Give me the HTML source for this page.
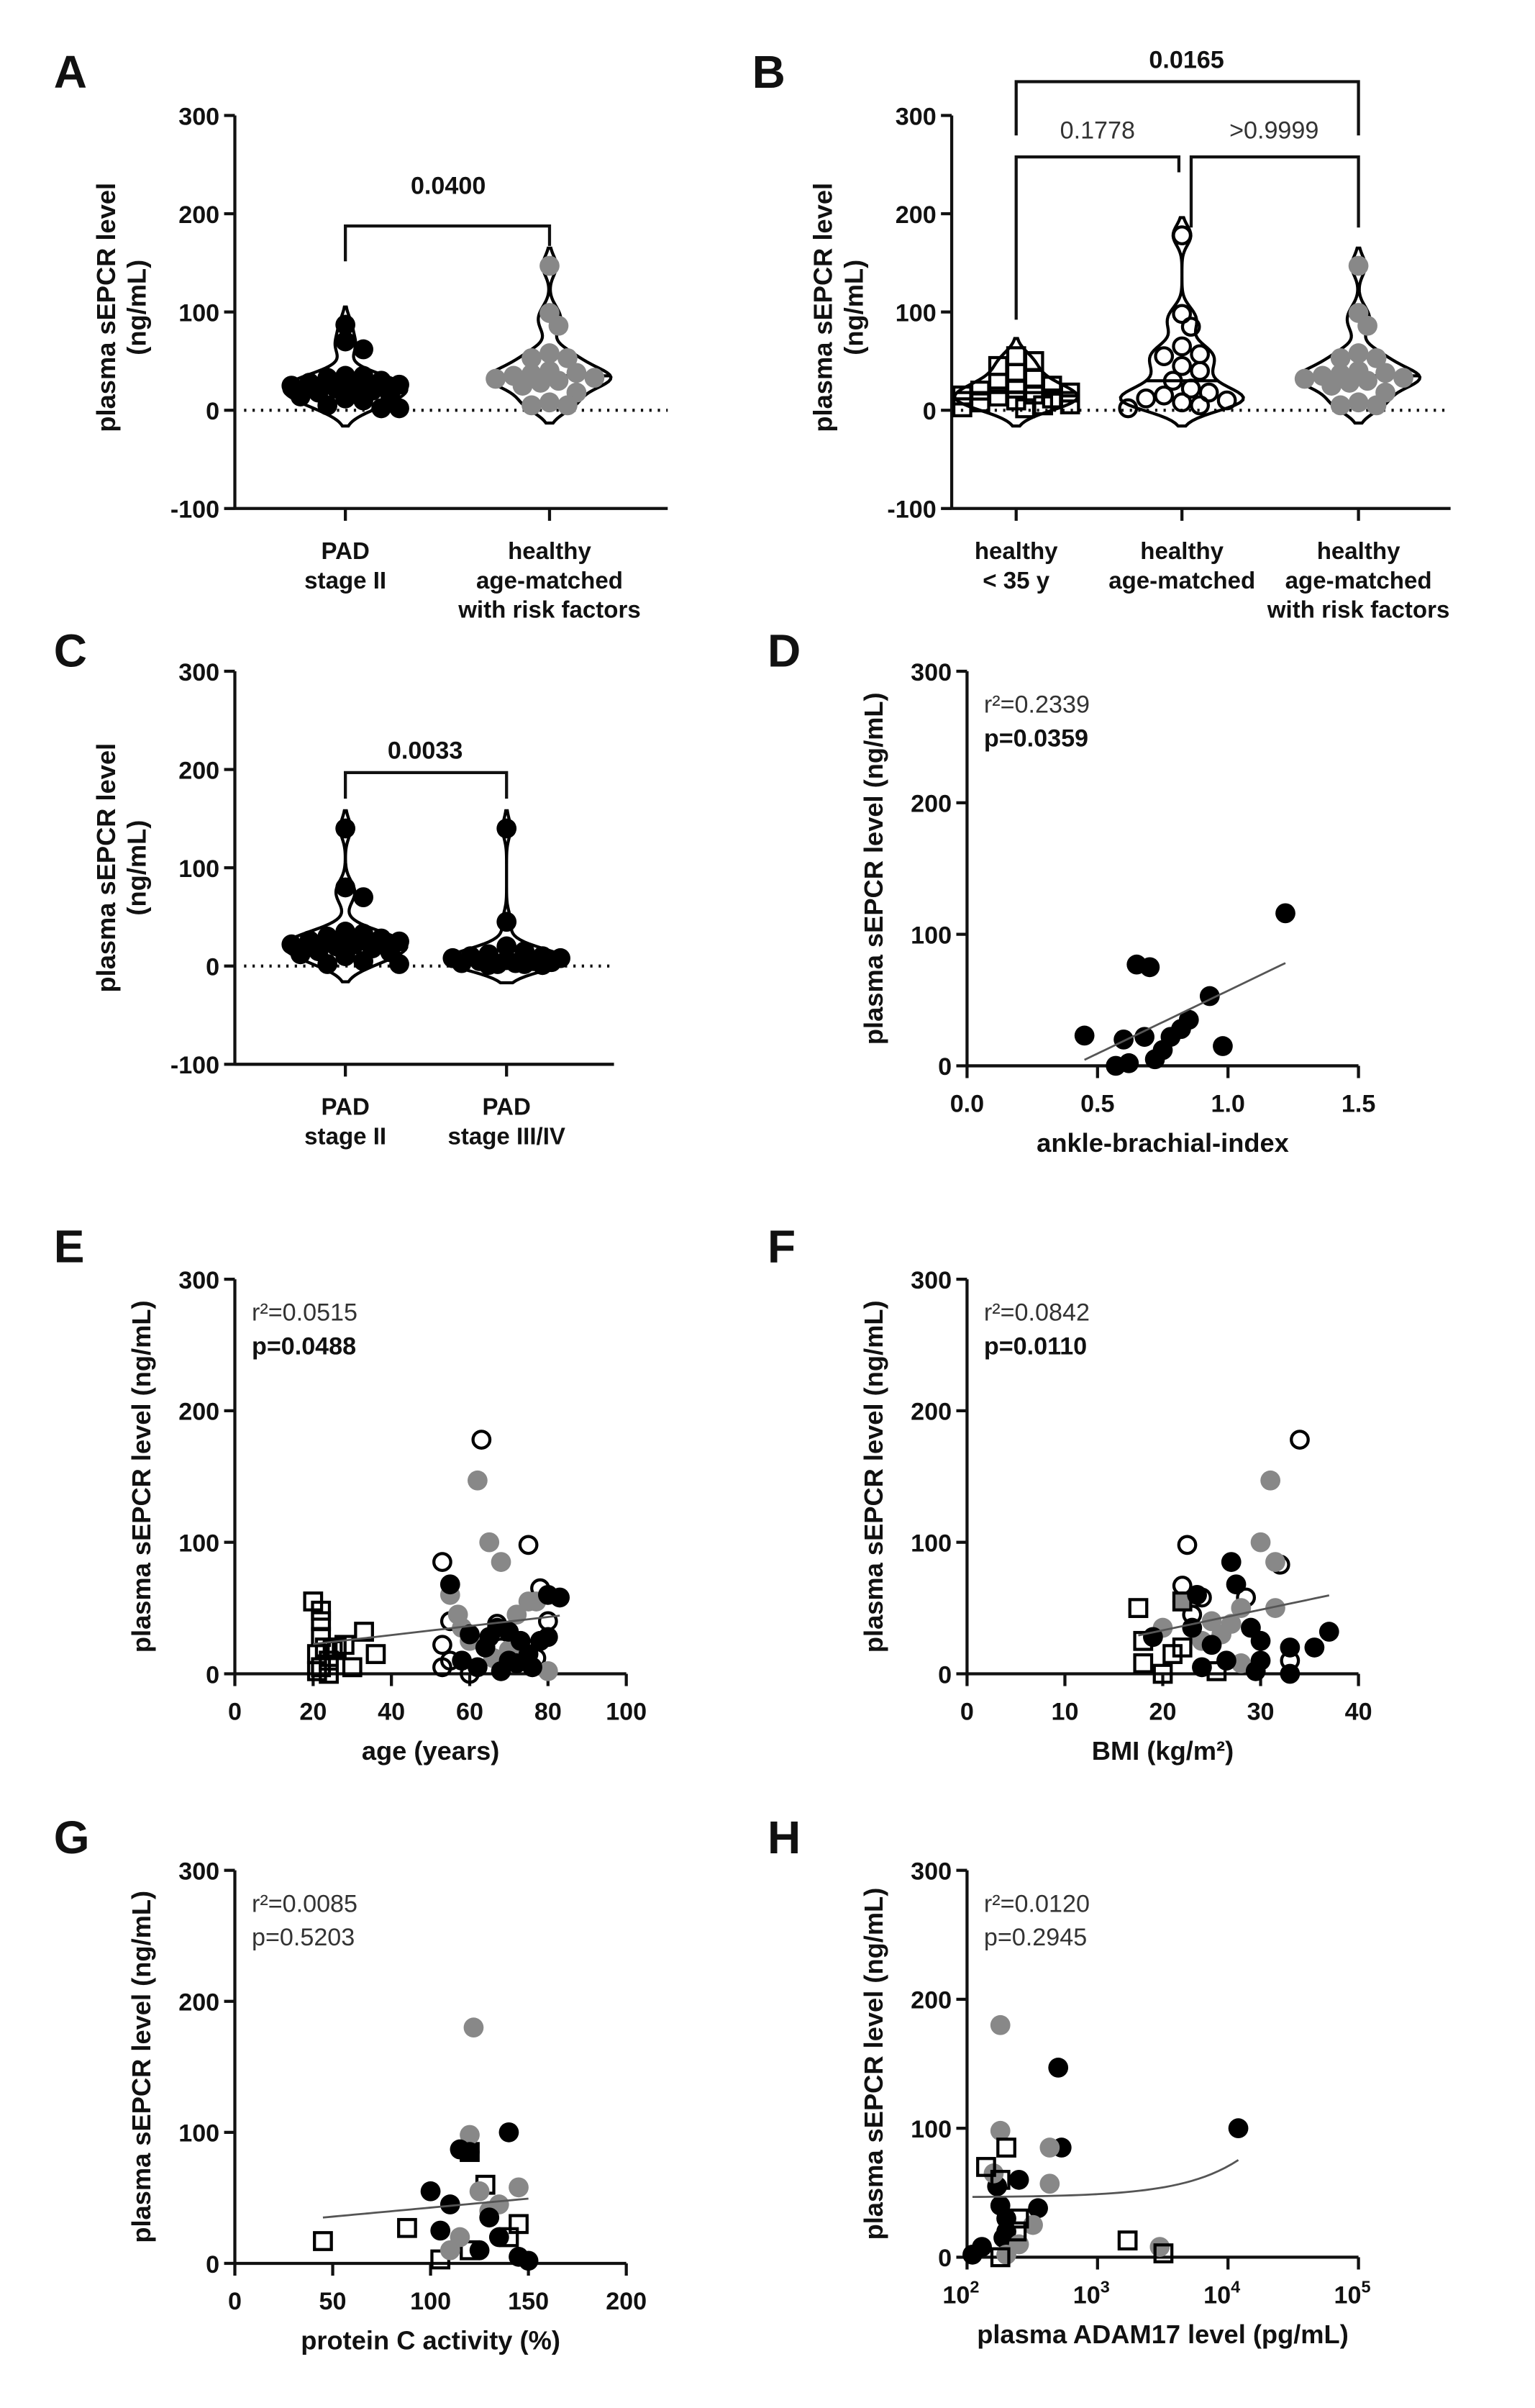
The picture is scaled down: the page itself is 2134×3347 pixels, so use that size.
<!DOCTYPE html>
<html><head><meta charset="utf-8">
<style>
html,body{margin:0;padding:0;background:#fff;}
svg{display:block;}
text{font-family:"Liberation Sans",Arial,sans-serif;}
</style></head>
<body>
<svg id="fig" width="2134" height="3347" viewBox="0 0 1000 1568" xmlns="http://www.w3.org/2000/svg"></svg>
<script>
// ---------- DATA ----------
const aPAD = [87,70,62,35,35,33,30,28,26,25,22,22,20,18,15,12,10,5,2,2,14];
const aRisk = [147,99,86,58,53,53,40,38,37,35,33,32,30,28,25,18,8,5,5];
const bYoung = [55,50,45,38,32,28,25,22,20,18,16,15,14,12,10,8,6,5,3,2];
const bAge = [178,98,85,65,57,55,45,40,30,22,18,15,12,10,8,5,2];
const bRisk = [147,99,86,58,53,53,40,38,37,35,33,32,30,28,25,18,8,5,5];
const cStage2 = [140,80,70,35,33,30,28,26,25,22,22,20,18,15,12,10,5,2,2,14];
const cStage34 = [140,45,20,15,12,10,8,8,6,5,5,4,3,3,2,2,1,1,10];
const pvalA = ["0.0400"], pvalB = ["0.0165","0.1778",">0.9999"], pvalC = ["0.0033"];
const yTicks = [300,200,100,0,-100];
const scatYTicks = [300,200,100,0];

const dABI = [0.45,0.57,0.6,0.62,0.65,0.7,0.68,0.72,0.75,0.78,0.82,0.85,0.93,0.98,1.22];
const dVal = [23,0,20,2,77,75,22,5,12,22,28,35,53,15,116];
const dXTicks = [0.0,0.5,1.0,1.5];

const eSqX=[20,22,22,22,23,21,24,25,30,33,36,22,21,24,26,28], eSqY=[55,48,40,28,20,15,10,18,5,32,15,5,2,0,20,22];
const eOpX=[53,63,75,55,53,67,78,80,53,55,68,77,60], eOpY=[85,178,98,40,22,38,65,40,5,10,20,12,0];
const eGrX=[62,65,68,55,57,58,72,75,77,60,80,70,66], eGrY=[147,100,85,60,45,35,45,55,55,25,2,18,12];
const eBkX=[55,60,65,67,70,73,75,78,80,83,80,62,68,72,76,58,64,70], eBkY=[68,30,28,35,32,25,15,25,60,58,28,5,2,8,5,10,20,10];
const eXTicks=[0,20,40,60,80,100];

const fOpX=[22.5,22,32,24,28.5,34,33,23], fOpY=[98,67,83,58,58,178,10,45];
const fGrX=[22,20,25,27,28,30,31,31.5,31.5,26,28,24], fGrY=[55,35,40,38,50,100,147,50,85,30,8,25];
const fBkX=[27,27.5,23.5,19,23,25,29,30,33,35.5,37,30,33,29.5,24,26.5], fBkY=[85,68,60,28,35,22,35,25,20,20,32,10,0,2,5,10];
const fSqX=[17.5,18,18,20,21,22,25.5,22], fSqY=[50,25,8,0,15,55,2,20];
const fXTicks=[0,10,20,30,40];

const gSqX=[45,88,120,128,145,140,105,120], gSqY=[17,27,85,60,30,20,3,10];
const gGrX=[122,120,125,130,135,145,115,110], gGrY=[180,98,55,40,45,58,20,10];
const gBkX=[115,120,140,100,110,130,105,135,145,125,150], gBkY=[87,85,100,55,45,35,25,20,5,10,2];
const gXTicks=[0,50,100,150,200];

const hBkX=[500,12000,530,250,170,180,200,350,200,110,130,190], hBkY=[147,100,85,60,55,40,30,38,20,2,8,15];
const hGrX=[180,180,430,160,430,320,250,3000,200], hGrY=[180,98,85,65,57,25,10,8,2];
const hSqX=[200,140,180,250,240,1700,3200,180], hSqY=[85,70,60,30,20,13,3,0];
const hXTickExp=[2,3,4,5];

// ---------- HELPERS ----------
const NS="http://www.w3.org/2000/svg";
const svg=document.getElementById('fig');
function mk(tag,attrs,parent){const e=document.createElementNS(NS,tag);for(const k in attrs)e.setAttribute(k,attrs[k]);(parent||svg).appendChild(e);return e;}
function txt(s,x,y,size,opts,parent){opts=opts||{};const t=mk('text',{x:x,y:y,'font-size':size,'text-anchor':opts.anchor||'start',fill:opts.fill||'#111'},parent);if(opts.bold)t.setAttribute('font-weight','bold');if(opts.rot)t.setAttribute('transform','rotate(-90 '+x+' '+y+')');t.textContent=s;return t;}
function line(x1,y1,x2,y2,w,col,parent,dash){const l=mk('line',{x1:x1,y1:y1,x2:x2,y2:y2,stroke:col||'#111','stroke-width':w||2},parent);if(dash)l.setAttribute('stroke-dasharray',dash);return l;}

function marker(type,x,y,g){
  let e;
  if(type==='black'){e=mk('circle',{cx:x,cy:y,r:6.5,fill:'#000'},g);}
  else if(type==='gray'){e=mk('circle',{cx:x,cy:y,r:6.5,fill:'#888'},g);}
  else if(type==='open'){e=mk('circle',{cx:x,cy:y,r:5.5,fill:'none',stroke:'#000','stroke-width':2},g);}
  else {e=mk('rect',{x:x-5.5,y:y-5.5,width:11,height:11,fill:'none',stroke:'#000','stroke-width':2},g);}
  
  
  return e;
}

function panelLetter(l,x,y){const t=txt(l,x,y,30,{bold:true});}

function yAxis(g,ax,yScale,ticks,top,bottom){
  const a=line(ax,top,ax,bottom,2,'#111',g);
  
  ticks.forEach(v=>{const y=yScale(v);line(ax-7,y,ax,y,2,'#111',g);
    const t=txt(String(v),ax-10,y+6,16,{anchor:'end',bold:true},g);
    });
}

function violin(g,cx,vals,yScale){
  const bw=10, lo=Math.min(...vals)-18, hi=Math.max(...vals)+18, n=80;
  const pts=[];let maxd=0;
  for(let i=0;i<=n;i++){const v=lo+(hi-lo)*i/n;let d=0;vals.forEach(u=>{d+=Math.exp(-0.5*((v-u)/bw)**2);});pts.push([v,d]);if(d>maxd)maxd=d;}
  const W=40;
  let p='M'+cx+' '+yScale(lo);
  pts.forEach(q=>{p+=' L'+(cx+W*q[1]/maxd).toFixed(2)+' '+yScale(q[0]).toFixed(2);});
  for(let i=pts.length-1;i>=0;i--){p+=' L'+(cx-W*pts[i][1]/maxd).toFixed(2)+' '+yScale(pts[i][0]).toFixed(2);}
  p+='Z';
  const path=mk('path',{d:p,fill:'none',stroke:'#000','stroke-width':2},g);
  
  const s=[...vals].sort((a,b)=>a-b);const med=s[Math.floor(s.length/2)];
  let dm=0;vals.forEach(u=>{dm+=Math.exp(-0.5*((med-u)/bw)**2);});
  const hw=W*dm/maxd;
  line(cx-hw,yScale(med),cx+hw,yScale(med),2,'#000',g);
  return {pts,maxd,W};
}

function swarm(g,cx,vals,yScale,type){
  const placed=[];const r=6.5;const maxOff=36;
  const order=vals.map((v,i)=>i).sort((a,b)=>vals[b]-vals[a]);
  order.forEach(i=>{const y=yScale(vals[i]);let best=cx,bestD=-1;
    for(let k=0;k<20;k++){const off=(k%2?1:-1)*Math.ceil(k/2)*r*0.9;if(Math.abs(off)>maxOff)break;const x=cx+off;
      const md=placed.length?Math.min(...placed.map(p=>Math.hypot(p[0]-x,p[1]-y))):99;
      if(md>=r*1.5){best=x;bestD=md;break;}
      if(md>bestD){bestD=md;best=x;}}
    placed.push([best,y]);marker(type,best,y,g);});
}

function violinPanel(name,ax,top,bottom,xEnd,cats,groups,types,labels){
  const g=mk('g',{},svg);
  const ys=v=>bottom-(v+100)*(bottom-top)/400;
  yAxis(g,ax,ys,yTicks,top,bottom);
  const xa=line(ax,bottom,xEnd,bottom,2,'#111',g);
  line(ax+6,ys(0),xEnd,ys(0),2,'#111',g,'1.5 4');
  cats.forEach((cx,i)=>{line(cx,bottom,cx,bottom+8,2,'#111',g);
    labels[i].forEach((s,j)=>{const t=txt(s,cx,bottom+33+j*19,15.5,{anchor:'middle',bold:true},g);});
    violin(g,cx,groups[i],ys);swarm(g,cx,groups[i],ys,types[i]);});
  return {g,ys};
}

function yTitle(g,lines,x,cy){lines.forEach((s,i)=>{const t=txt(s,x+i*20,cy,17,{anchor:'middle',bold:true,rot:true},g);});}
function bracket(g,x1,x2,y,l1,l2){const p=mk('path',{d:`M${x1} ${l1} L${x1} ${y} L${x2} ${y} L${x2} ${l2}`,fill:'none',stroke:'#111','stroke-width':2},g);}

// ---------- PANEL A ----------
panelLetter('A',35,57);
let A=violinPanel('panel-a',153,75,331,435,[225,358],[aPAD,aRisk],['black','gray'],[['PAD','stage II'],['healthy','age-matched','with risk factors']]);
yTitle(A.g,['plasma sEPCR level','(ng/mL)'],75,200);
bracket(A.g,225,358,147,170,160);
txt(pvalA[0],292,126,16,{anchor:'middle',bold:true},A.g);

// ---------- PANEL B ----------
panelLetter('B',490,57);
let B=violinPanel('panel-b',620,75,331,945,[662,770,885],[bYoung,bAge,bRisk],['square','open','gray'],[['healthy','< 35 y'],['healthy','age-matched'],['healthy','age-matched','with risk factors']]);
yTitle(B.g,['plasma sEPCR level','(ng/mL)'],542,200);
bracket(B.g,662,885,53,88,88);
bracket(B.g,662,768,102,208,112);
bracket(B.g,776,885,102,148,148);
txt(pvalB[0],773,44,16,{anchor:'middle',bold:true},B.g);
txt(pvalB[1],715,90,16,{anchor:'middle',fill:'#333'},B.g);
txt(pvalB[2],830,90,16,{anchor:'middle',fill:'#333'},B.g);

// ---------- PANEL C ----------
panelLetter('C',35,434);
let C=violinPanel('panel-c',153,437,693,400,[225,330],[cStage2,cStage34],['black','black'],[['PAD','stage II'],['PAD','stage III/IV']]);
yTitle(C.g,['plasma sEPCR level','(ng/mL)'],75,565);
bracket(C.g,225,330,503,520,520);
txt(pvalC[0],277,494,16,{anchor:'middle',bold:true},C.g);

// ---------- SCATTER ----------
function regress(xs,ys){const n=xs.length;const mx=xs.reduce((a,b)=>a+b)/n,my=ys.reduce((a,b)=>a+b)/n;let sxy=0,sxx=0;xs.forEach((x,i)=>{sxy+=(x-mx)*(ys[i]-my);sxx+=(x-mx)**2;});const b=sxy/sxx;return [my-b*mx,b];}
function scatterPanel(o){
  const g=mk('g',{},svg);
  const ys=v=>o.bottom-v*(o.bottom-o.top)/300;
  const xs=o.xs;
  yAxis(g,o.ax,ys,scatYTicks,o.top,o.bottom);
  const xa=line(o.ax,o.bottom,o.xEnd,o.bottom,2,'#111',g);
  o.xTicks.forEach((v,i)=>{const x=xs(v);line(x,o.bottom,x,o.bottom+8,2,'#111',g);
    const t=o.tickLabel?o.tickLabel(v,x,g):txt(String(v),x,o.bottom+30,16,{anchor:'middle',bold:true},g);
    });
  const xt=txt(o.xTitle,(o.ax+o.xEnd)/2,o.bottom+56,17,{anchor:'middle',bold:true},g);
  yTitle(g,['plasma sEPCR level (ng/mL)'],o.ax-55,(o.top+o.bottom)/2);
  const r=txt(o.r2,o.ax+11,o.top+27,16,{fill:'#333'},g);
  const p=txt(o.p,o.ax+11,o.top+49,16,{bold:o.pBold,fill:o.pBold?'#111':'#333'},g);
  o.series.forEach(s=>s.x.forEach((x,i)=>marker(s.type,xs(x),ys(s.y[i]),g)));
  let allX=[],allY=[];o.series.forEach(s=>{allX=allX.concat(s.x);allY=allY.concat(s.y);});
  const tx=o.fitX||(v=>v);
  const [a,b]=regress(allX.map(tx),allY);
  const mn=Math.min(...allX),mx=Math.max(...allX);let d='';
  for(let i=0;i<=40;i++){const xv=o.log?mn*Math.pow(mx/mn,i/40):mn+(mx-mn)*i/40;d+=(i?' L':'M')+xs(xv).toFixed(2)+' '+ys(a+b*tx(xv)).toFixed(2);}
  const f=mk('path',{d:d,fill:'none',stroke:'#555','stroke-width':1.3},g);
}

panelLetter('D',500,434);
scatterPanel({name:'panel-d',ax:630,top:437,bottom:694,xEnd:885,xs:v=>630+v*(255/1.5),xTicks:dXTicks,
  tickLabel:(v,x,g)=>txt(v.toFixed(1),x,724,16,{anchor:'middle',bold:true},g),
  xTitle:'ankle-brachial-index',r2:'r²=0.2339',p:'p=0.0359',pBold:true,series:[{type:'black',x:dABI,y:dVal}]});

panelLetter('E',35,822);
scatterPanel({name:'panel-e',ax:153,top:833,bottom:1090,xEnd:408,xs:v=>153+v*2.55,xTicks:eXTicks,
  xTitle:'age (years)',r2:'r²=0.0515',p:'p=0.0488',pBold:true,
  series:[{type:'square',x:eSqX,y:eSqY},{type:'open',x:eOpX,y:eOpY},{type:'gray',x:eGrX,y:eGrY},{type:'black',x:eBkX,y:eBkY}]});

panelLetter('F',500,822);
scatterPanel({name:'panel-f',ax:630,top:833,bottom:1090,xEnd:885,xs:v=>630+v*(255/40),xTicks:fXTicks,
  xTitle:'BMI (kg/m²)',r2:'r²=0.0842',p:'p=0.0110',pBold:true,
  series:[{type:'open',x:fOpX,y:fOpY},{type:'gray',x:fGrX,y:fGrY},{type:'black',x:fBkX,y:fBkY},{type:'square',x:fSqX,y:fSqY}]});

panelLetter('G',35,1207);
scatterPanel({name:'panel-g',ax:153,top:1218,bottom:1474,xEnd:408,xs:v=>153+v*(255/200),xTicks:gXTicks,
  xTitle:'protein C activity (%)',r2:'r²=0.0085',p:'p=0.5203',pBold:false,
  series:[{type:'square',x:gSqX,y:gSqY},{type:'gray',x:gGrX,y:gGrY},{type:'black',x:gBkX,y:gBkY}]});

panelLetter('H',500,1207);
scatterPanel({name:'panel-h',ax:630,top:1218,bottom:1470,xEnd:885,log:true,
  xs:v=>630+(Math.log10(v)-2)*85,xTicks:hXTickExp.map(e=>Math.pow(10,e)),
  tickLabel:(v,x,g)=>{const t=txt('10',x-4,1500,16,{anchor:'middle',bold:true},g);const s=mk('tspan',{dy:-7,'font-size':11},t);s.textContent=String(Math.round(Math.log10(v)));return t;},
  xTitle:'plasma ADAM17 level (pg/mL)',r2:'r²=0.0120',p:'p=0.2945',pBold:false,
  series:[{type:'black',x:hBkX,y:hBkY},{type:'gray',x:hGrX,y:hGrY},{type:'square',x:hSqX,y:hSqY}]});
</script>
</body></html>
